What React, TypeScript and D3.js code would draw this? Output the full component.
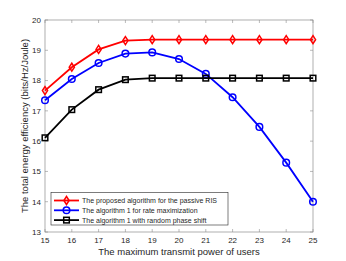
import { useEffect, useRef } from 'react';
import * as d3 from 'd3';

const powers = [15, 16, 17, 18, 19, 20, 21, 22, 23, 24, 25];
const proposed = [17.67, 18.44, 19.03, 19.32, 19.35, 19.35, 19.35, 19.35, 19.35, 19.35, 19.35];
const rateMax = [17.35, 18.05, 18.58, 18.89, 18.93, 18.71, 18.22, 17.45, 16.47, 15.29, 14.0];
const randomPhase = [16.11, 17.04, 17.70, 18.03, 18.08, 18.08, 18.08, 18.08, 18.08, 18.08, 18.08];
const seriesNames = [
  'The proposed algorithm for the passive RIS',
  'The algorithm 1 for rate maximization',
  'The algorithm 1 with random phase shift',
];
const yTicks = [13, 14, 15, 16, 17, 18, 19, 20];

export default function App() {
  const svgRef = useRef<SVGSVGElement | null>(null);

  useEffect(() => {
    if (!svgRef.current) return;
    const svg = d3.select(svgRef.current);
    svg.selectAll('*').remove();

    const width = 346, height = 261;
    const margin = { top: 20, right: 33, bottom: 29, left: 45 };
    const x = d3.scaleLinear().domain([15, 25]).range([margin.left, width - margin.right]);
    const y = d3.scaleLinear().domain([13, 20]).range([height - margin.bottom, margin.top]);
    const font = 'Liberation Sans, Arial, sans-serif';
    const axisColor = '#262626';
    const boxColor = '#8c8c8c';

    svg.append('rect').attr('width', width).attr('height', height).attr('fill', '#fff');

    // tick marks (inside, on all four sides)
    const g = svg.append('g');
    const tl = 3;
    powers.forEach(v => {
      g.append('line').attr('x1', x(v)).attr('x2', x(v))
        .attr('y1', y(13)).attr('y2', y(13) - tl).attr('stroke', boxColor).attr('stroke-width', 0.6);
      g.append('line').attr('x1', x(v)).attr('x2', x(v))
        .attr('y1', y(20)).attr('y2', y(20) + tl).attr('stroke', boxColor).attr('stroke-width', 0.6);
      g.append('text').attr('x', x(v)).attr('y', y(13) + 11)
        .attr('text-anchor', 'middle').attr('font-family', font).attr('font-size', 8)
        .attr('fill', axisColor).text(v);
    });
    yTicks.forEach(v => {
      g.append('line').attr('x1', x(15)).attr('x2', x(15) + tl)
        .attr('y1', y(v)).attr('y2', y(v)).attr('stroke', boxColor).attr('stroke-width', 0.6);
      g.append('line').attr('x1', x(25)).attr('x2', x(25) - tl)
        .attr('y1', y(v)).attr('y2', y(v)).attr('stroke', boxColor).attr('stroke-width', 0.6);
      g.append('text').attr('x', x(15) - 4).attr('y', y(v)).attr('dy', '0.35em')
        .attr('text-anchor', 'end').attr('font-family', font).attr('font-size', 8)
        .attr('fill', axisColor).text(v);
    });

    svg.append('rect').attr('x', x(15)).attr('y', y(20))
      .attr('width', x(25) - x(15)).attr('height', y(13) - y(20))
      .attr('fill', 'none').attr('stroke', boxColor).attr('stroke-width', 0.7);

    // axis labels
    svg.append('text').attr('x', (x(15) + x(25)) / 2).attr('y', height - 6)
      .attr('text-anchor', 'middle').attr('font-family', font).attr('font-size', 9.5)
      .attr('fill', axisColor).text('The maximum transmit power of users');
    svg.append('text')
      .attr('transform', `translate(28, ${(y(13) + y(20)) / 2}) rotate(-90)`)
      .attr('text-anchor', 'middle').attr('font-family', font).attr('font-size', 9.5)
      .attr('fill', axisColor).text('The total energy efficiency (bits/Hz/Joule)');

    const series = [
      { values: proposed, color: '#ff0000', marker: 'diamond' },
      { values: rateMax, color: '#0000ff', marker: 'circle' },
      { values: randomPhase, color: '#000000', marker: 'square' },
    ];

    const drawMarker = (sel: d3.Selection<SVGGElement, unknown, null, undefined>, kind: string, cx: number, cy: number, color: string) => {
      if (kind === 'circle') {
        sel.append('circle').attr('cx', cx).attr('cy', cy).attr('r', 3.3)
          .attr('fill', 'none').attr('stroke', color).attr('stroke-width', 1.5);
      } else if (kind === 'square') {
        sel.append('rect').attr('x', cx - 2.8).attr('y', cy - 2.8).attr('width', 5.6).attr('height', 5.6)
          .attr('fill', 'none').attr('stroke', color).attr('stroke-width', 1.5);
      } else {
        sel.append('path').attr('d', `M${cx},${cy - 4}L${cx + 2.6},${cy}L${cx},${cy + 4}L${cx - 2.6},${cy}Z`)
          .attr('fill', 'none').attr('stroke', color).attr('stroke-width', 1.5);
      }
    };

    const line = d3.line<number>().x((d, i) => x(powers[i])).y(d => y(d));
    series.forEach(s => {
      const sg = svg.append('g');
      sg.append('path').attr('d', line(s.values)).attr('fill', 'none')
        .attr('stroke', s.color).attr('stroke-width', 1.8);
      s.values.forEach((v, i) => drawMarker(sg, s.marker, x(powers[i]), y(v), s.color));
    });

    // legend
    const lx = 51, ly = 192.5, lw = 177, lh = 32.5;
    const leg = svg.append('g');
    leg.append('rect').attr('x', lx).attr('y', ly).attr('width', lw).attr('height', lh)
      .attr('fill', '#fff').attr('stroke', '#262626').attr('stroke-width', 0.6);
    series.forEach((s, i) => {
      const ry = ly + 8 + i * 9.8;
      leg.append('line').attr('x1', lx + 3).attr('x2', lx + 28).attr('y1', ry).attr('y2', ry)
        .attr('stroke', s.color).attr('stroke-width', 1.8);
      drawMarker(leg, s.marker, lx + 15.5, ry, s.color);
      leg.append('text').attr('x', lx + 31).attr('y', ry).attr('dy', '0.35em')
        .attr('font-family', font).attr('font-size', 7).attr('fill', axisColor)
        .text(seriesNames[i]);
    });
  }, []);

  return (
    <svg ref={svgRef} width={346} height={261}
      style={{ position: 'absolute', left: 0, top: 0, display: 'block' }} />
  );
}
